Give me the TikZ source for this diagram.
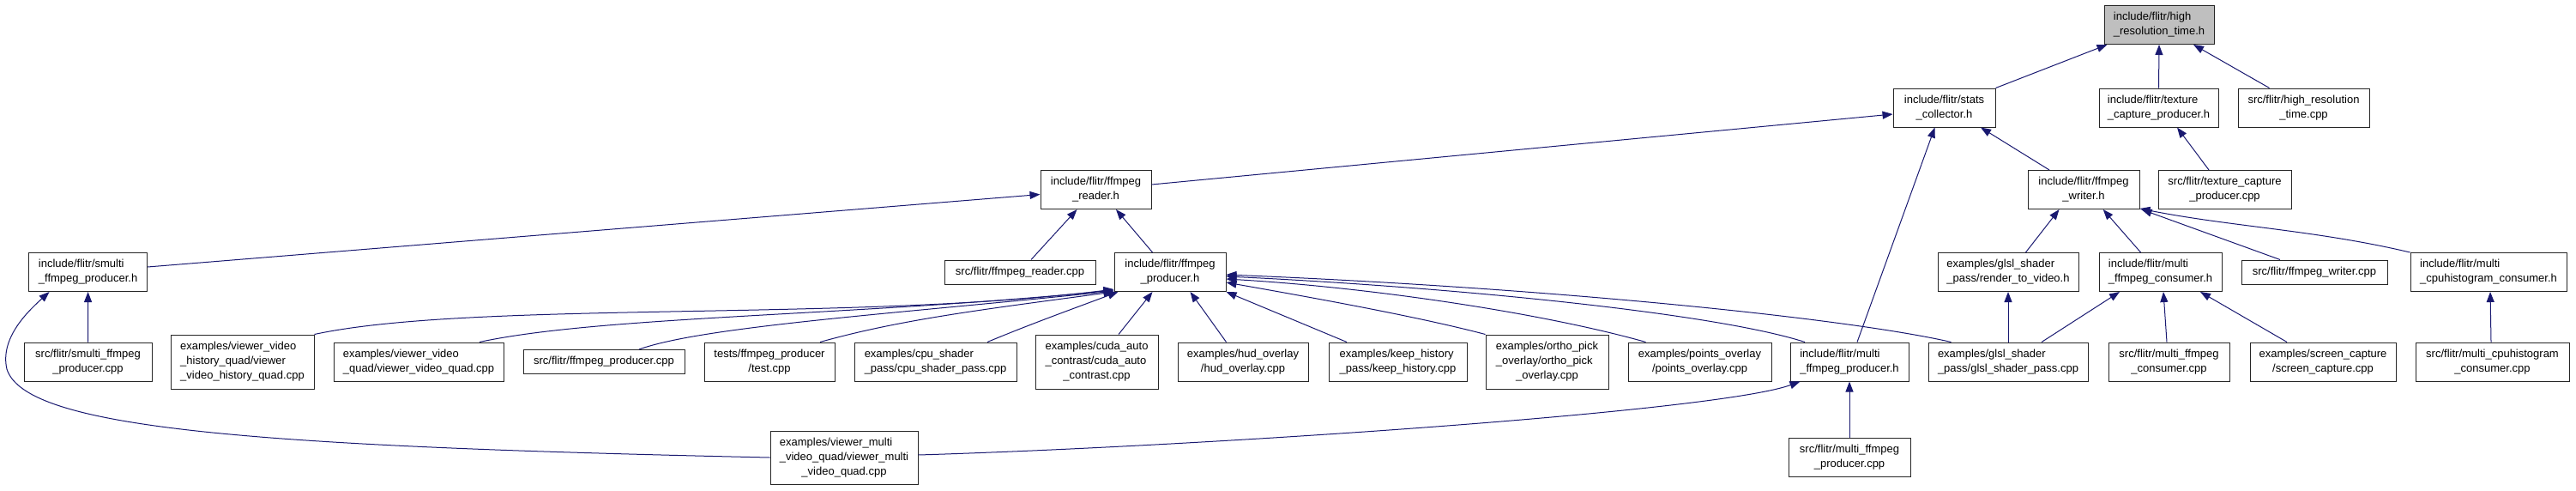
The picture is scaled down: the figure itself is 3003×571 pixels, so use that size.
\documentclass[tikz,border=0pt]{standalone}
\usepackage{fontspec}
\setmainfont{Liberation Sans}
\usetikzlibrary{arrows.meta}
\definecolor{edge}{HTML}{191970}
\definecolor{hdr}{HTML}{BFBFBF}
% two- and three-line labels: lines left-aligned, last line centred
\newcommand{\fone}[1]{\strut#1}
\newcommand{\ftwo}[2]{\begin{tabular}{@{}l@{}}#1\\\multicolumn{1}{@{}c@{}}{#2}\end{tabular}}
\newcommand{\fthree}[3]{\begin{tabular}{@{}l@{}}#1\\#2\\\multicolumn{1}{@{}c@{}}{#3}\end{tabular}}

\begin{document}
\begin{tikzpicture}[x=1pt,y=-1pt,
  fnode/.style={draw=black!85,line width=1pt,fill=white,inner sep=1pt,
    minimum height=45pt,font=\fontsize{13}{17}\selectfont},
  dep/.style={-{Triangle[length=12pt,width=9pt]},draw=edge,line width=1pt}]
\path[use as bounding box] (0,0) rectangle (3003,571);

% Rank 0 and 1
\node[fnode,fill=hdr,minimum width=128pt] (hrt) at (2517,29) {\ftwo{include/flitr/high}{\_resolution\_time.h}};
\node[fnode,minimum width=119pt] (stats) at (2266.5,125.5) {\ftwo{include/flitr/stats}{\_collector.h}};
\node[fnode,minimum width=139pt] (texh) at (2516.5,125.5) {\ftwo{include/flitr/texture}{\_capture\_producer.h}};
\node[fnode,minimum width=153pt] (hrtcpp) at (2685.5,125.5) {\ftwo{src/flitr/high\_resolution}{\_time.cpp}};

% Rank 2
\node[fnode,minimum width=129pt] (reader) at (1277.5,221) {\ftwo{include/flitr/ffmpeg}{\_reader.h}};
\node[fnode,minimum width=130pt] (writer) at (2429,221) {\ftwo{include/flitr/ffmpeg}{\_writer.h}};
\node[fnode,minimum width=155pt] (texcpp) at (2593.5,221) {\ftwo{src/flitr/texture\_capture}{\_producer.cpp}};

% Rank 3
\node[fnode,minimum width=138pt] (smulti) at (102.6,317) {\ftwo{include/flitr/smulti}{\_ffmpeg\_producer.h}};
\node[fnode,minimum width=176pt,minimum height=28pt] (readercpp) at (1189,317) {\fone{src/flitr/ffmpeg\_reader.cpp}};
\node[fnode,minimum width=130pt] (producer) at (1364,317) {\ftwo{include/flitr/ffmpeg}{\_producer.h}};
\node[fnode,minimum width=164pt] (render) at (2341,317) {\ftwo{examples/glsl\_shader}{\_pass/render\_to\_video.h}};
\node[fnode,minimum width=143pt] (mconsh) at (2518.5,317) {\ftwo{include/flitr/multi}{\_ffmpeg\_consumer.h}};
\node[fnode,minimum width=170pt,minimum height=28pt] (writercpp) at (2698,317) {\fone{src/flitr/ffmpeg\_writer.cpp}};
\node[fnode,minimum width=182pt] (mcpuh) at (2901,317) {\ftwo{include/flitr/multi}{\_cpuhistogram\_consumer.h}};

% Rank 4
\node[fnode,minimum width=149pt] (smulticpp) at (102.5,421.5) {\ftwo{src/flitr/smulti\_ffmpeg}{\_producer.cpp}};
\node[fnode,minimum width=167pt,minimum height=63pt] (vvhist) at (282.5,421.5) {\fthree{examples/viewer\_video}{\_history\_quad/viewer}{\_video\_history\_quad.cpp}};
\node[fnode,minimum width=198pt] (vvquad) at (488,421.5) {\ftwo{examples/viewer\_video}{\_quad/viewer\_video\_quad.cpp}};
\node[fnode,minimum width=188pt,minimum height=28pt] (prodcpp) at (704,421.5) {\fone{src/flitr/ffmpeg\_producer.cpp}};
\node[fnode,minimum width=152pt] (test) at (897,421.5) {\ftwo{tests/ffmpeg\_producer}{/test.cpp}};
\node[fnode,minimum width=189pt] (cpushader) at (1090.5,421.5) {\ftwo{examples/cpu\_shader}{\_pass/cpu\_shader\_pass.cpp}};
\node[fnode,minimum width=143pt,minimum height=63pt] (cuda) at (1278.5,421.5) {\fthree{examples/cuda\_auto}{\_contrast/cuda\_auto}{\_contrast.cpp}};
\node[fnode,minimum width=152pt] (hud) at (1449,421.5) {\ftwo{examples/hud\_overlay}{/hud\_overlay.cpp}};
\node[fnode,minimum width=161pt] (keep) at (1629.5,421.5) {\ftwo{examples/keep\_history}{\_pass/keep\_history.cpp}};
\node[fnode,minimum width=143pt,minimum height=63pt] (ortho) at (1803.5,421.5) {\fthree{examples/ortho\_pick}{\_overlay/ortho\_pick}{\_overlay.cpp}};
\node[fnode,minimum width=167pt] (points) at (1981.5,421.5) {\ftwo{examples/points\_overlay}{/points\_overlay.cpp}};
\node[fnode,minimum width=138pt] (mprodh) at (2156,421.5) {\ftwo{include/flitr/multi}{\_ffmpeg\_producer.h}};
\node[fnode,minimum width=186pt] (glsl) at (2341,421.5) {\ftwo{examples/glsl\_shader}{\_pass/glsl\_shader\_pass.cpp}};
\node[fnode,minimum width=141pt] (mconscpp) at (2528.5,421.5) {\ftwo{src/flitr/multi\_ffmpeg}{\_consumer.cpp}};
\node[fnode,minimum width=170pt] (screen) at (2708,421.5) {\ftwo{examples/screen\_capture}{/screen\_capture.cpp}};
\node[fnode,minimum width=179pt] (mcpucpp) at (2905.5,421.5) {\ftwo{src/flitr/multi\_cpuhistogram}{\_consumer.cpp}};

% Rank 5
\node[fnode,minimum width=172pt,minimum height=62pt] (vmulti) at (984,533) {\fthree{examples/viewer\_multi}{\_video\_quad/viewer\_multi}{\_video\_quad.cpp}};
\node[fnode,minimum width=142pt] (mprodcpp) at (2156,533) {\ftwo{src/flitr/multi\_ffmpeg}{\_producer.cpp}};

% Include edges, arrow at the included header
\draw[dep] (stats.north east) -- ([xshift=4pt]hrt.south west);
\draw[dep] (texh.north) -- (hrt.south);
\draw[dep] ([xshift=-40pt]hrtcpp.north) -- ([xshift=40pt]hrt.south);
\draw[dep] ([yshift=6pt]reader.east) -- ([yshift=-7.5pt]stats.west);
\draw[dep] ([xshift=9pt]mprodh.north) -- ([xshift=-11pt]stats.south);
\draw[dep] ([xshift=-40pt]writer.north) -- ([xshift=42.5pt]stats.south);
\draw[dep] ([xshift=-18.5pt]texcpp.north) -- ([xshift=21.5pt]texh.south);
\draw[dep] ([yshift=6pt]smulti.east) -- ([yshift=-5.5pt]reader.west);
\draw[dep] ([xshift=13pt]readercpp.north) -- ([xshift=-22pt]reader.south);
\draw[dep] ([xshift=-20.5pt]producer.north) -- ([xshift=23.5pt]reader.south);
\draw[dep] ([xshift=20.5pt]render.north) -- ([xshift=-28.5pt]writer.south);
\draw[dep] ([xshift=-23pt]mconsh.north) -- ([xshift=22.7pt]writer.south);
\draw[dep] ([xshift=-40pt]writercpp.north) -- ([xshift=2pt]writer.south east);
\draw[dep] (mcpuh.north west) .. controls (2700,268) and (2600,264) .. ([yshift=1pt]writer.south east);
\draw[dep] (smulticpp.north) -- (smulti.south);
\draw[dep] (vmulti.west) .. controls (300,520) and (30,500) .. (8,430)
  .. controls (0,395) and (30,365) .. ([xshift=-45pt]smulti.south);

% Fan into ffmpeg_producer.h
\draw[dep] (vvhist.north east) .. controls (550,350) and (1000,375) .. ([yshift=3pt]producer.south west);
\draw[dep] ([xshift=71pt]vvquad.north) .. controls (700,368) and (1000,368) .. ([yshift=2pt]producer.south west);
\draw[dep] ([xshift=41pt]prodcpp.north) .. controls (820,380) and (1050,365) .. ([yshift=1pt]producer.south west);
\draw[dep] ([xshift=59pt]test.north) .. controls (1050,372) and (1150,360) .. (producer.south west);
\draw[dep] ([xshift=60.5pt]cpushader.north) .. controls (1200,378) and (1250,360) .. ([xshift=5pt]producer.south west);
\draw[dep] ([xshift=25.5pt]cuda.north) -- ([xshift=-20.5pt]producer.south);
\draw[dep] ([xshift=-19.5pt]hud.north) -- ([xshift=23.5pt]producer.south);
\draw[dep] ([xshift=-59.5pt]keep.north) -- (producer.south east);
\draw[dep] (ortho.north west) .. controls (1650,368) and (1520,345) .. ([yshift=-12pt]producer.east);
\draw[dep] ([xshift=-63pt]points.north) .. controls (1800,365) and (1600,335) .. ([yshift=-8pt]producer.east);
\draw[dep] ([xshift=-52pt]mprodh.north) .. controls (2000,365) and (1700,335) .. ([yshift=-5pt]producer.east);
\draw[dep] ([xshift=-66.5pt]glsl.north) .. controls (2150,370) and (1800,335) .. ([yshift=-3pt]producer.east);

% Lower right group
\draw[dep] (glsl.north) -- (render.south);
\draw[dep] ([xshift=39pt]glsl.north) -- ([xshift=-47.5pt]mconsh.south);
\draw[dep] ([xshift=-2.5pt]mconscpp.north) -- ([xshift=3.5pt]mconsh.south);
\draw[dep] ([xshift=-42pt]screen.north) -- ([xshift=46.5pt]mconsh.south);
\draw[dep] ([xshift=-1.5pt]mcpucpp.north) -- ([xshift=2pt]mcpuh.south);
\draw[dep] ([yshift=3pt]vmulti.east) .. controls (1400,520) and (2000,480) .. ([xshift=-57.5pt]mprodh.south);
\draw[dep] (mprodcpp.north) -- (mprodh.south);
\end{tikzpicture}
\end{document}
